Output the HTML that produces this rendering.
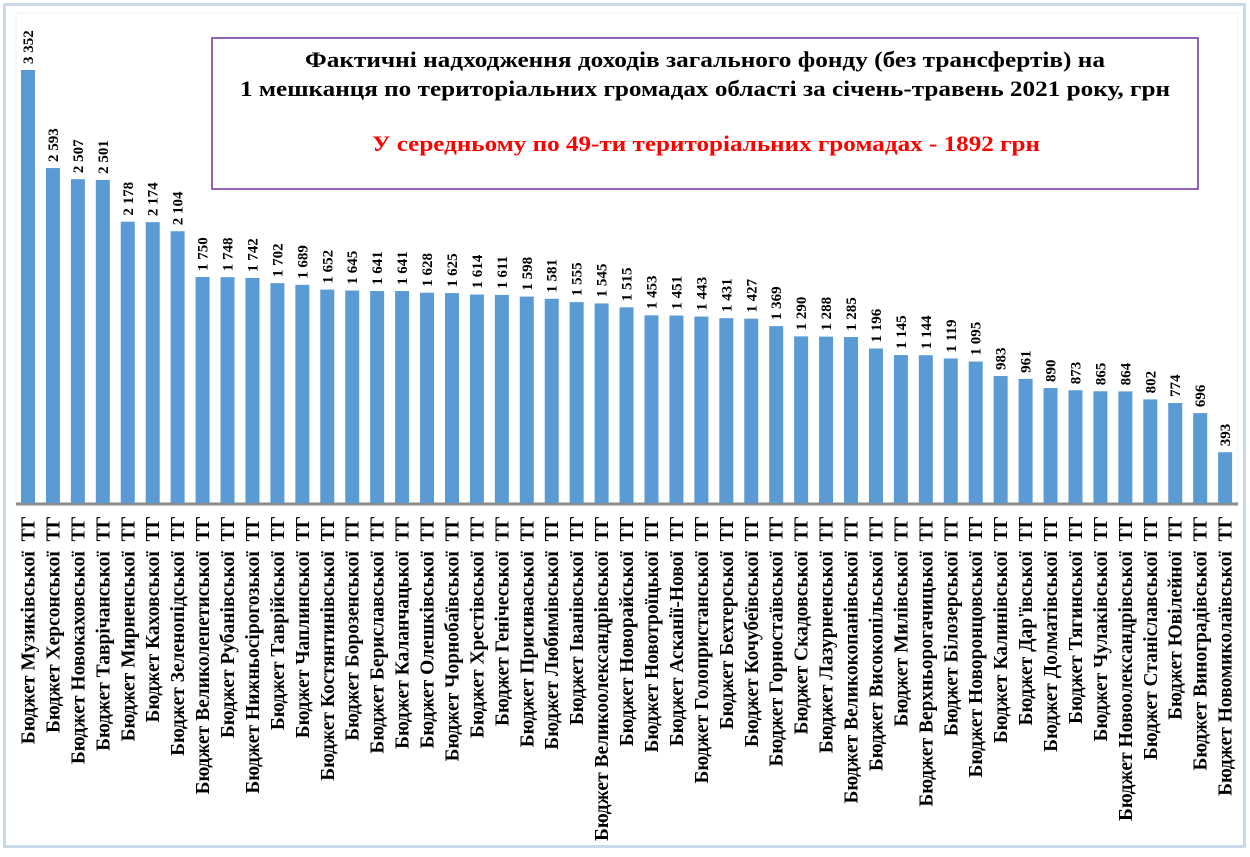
<!DOCTYPE html>
<html><head><meta charset="utf-8">
<style>
body{margin:0;background:#fff;}
svg text{font-family:"Liberation Serif",serif;font-weight:bold;}
</style></head>
<body>
<svg id="chart" width="1250" height="852" xmlns="http://www.w3.org/2000/svg">
<rect x="4.5" y="4.5" width="1240" height="842" fill="#fff" stroke="#c9d9ea" stroke-width="3"/>
<rect x="16" y="13" width="1222" height="490" fill="#fff" stroke="#eef0f3" stroke-width="1"/>
<line x1="16" y1="504" x2="1238" y2="504" stroke="#333" stroke-width="3" opacity="0.55"/>
<rect x="212" y="38" width="986" height="151" fill="#fff" stroke="#7030a0" stroke-width="1.5"/>
<text x="705" y="67" text-anchor="middle" font-size="22" textLength="800" lengthAdjust="spacingAndGlyphs">Фактичні надходження доходів загального фонду (без трансфертів) на</text>
<text x="705" y="96" text-anchor="middle" font-size="22" textLength="930" lengthAdjust="spacingAndGlyphs">1 мешканця по територіальних громадах області за січень-травень 2021 року, грн</text>
<text x="706" y="151" text-anchor="middle" font-size="22" fill="#ff0000" textLength="668" lengthAdjust="spacingAndGlyphs">У середньому по 49-ти територіальних громадах - 1892 грн</text>
<g id="bars"></g>
</svg>
<script>
const categories=["Музиківської","Херсонської","Новокаховської","Таврічанської","Мирненської","Каховської","Зеленопідської","Великолепетиської","Рубанівської","Нижньосірогозької","Таврійської","Чаплинської","Костянтинівської","Борозенської","Бериславської","Каланчацької","Олешківської","Чорнобаївської","Хрестівської","Генічеської","Присиваської","Любимівської","Іванівської","Великоолександрівської","Новорайської","Новотроїцької","Асканії-Нової","Голопристанської","Бехтерської","Кочубеївської","Горностаївської","Скадовської","Лазурненської","Великокопанівської","Високопільської","Милівської","Верхньорогачицької","Білозерської","Новоронцовської","Калинівської","Дар'ївської","Долматівської","Тягинської","Чулаківської","Новоолександрівської","Станіславської","Ювілейної","Виноградівської","Новомиколаївської"];
const values=[3352,2593,2507,2501,2178,2174,2104,1750,1748,1742,1702,1689,1652,1645,1641,1641,1628,1625,1614,1611,1598,1581,1555,1545,1515,1453,1451,1443,1431,1427,1369,1290,1288,1285,1196,1145,1144,1119,1095,983,961,890,873,865,864,802,774,696,393];
const valueLabels=values.map(v=>v>=1000?Math.floor(v/1000)+" "+String(v%1000).padStart(3,"0"):String(v));
const NS="http://www.w3.org/2000/svg";
const g=document.getElementById("bars");
const x0=28,pitch=24.94,baseY=503,scale=(503-70)/3352,bw=14;
const xPos=i=>x0+i*pitch;
const yPos=v=>baseY-v*scale;
values.forEach((v,i)=>{
  const cx=xPos(i);
  const r=document.createElementNS(NS,"rect");
  
  
  r.setAttribute("x",cx-bw/2);r.setAttribute("y",yPos(v));
  r.setAttribute("width",bw);r.setAttribute("height",v*scale);
  r.setAttribute("fill","#5b9bd5");
  g.appendChild(r);
  const t=document.createElementNS(NS,"text");
  
  
  t.setAttribute("font-size","15");
  t.setAttribute("transform",`translate(${cx+5},${yPos(v)-6}) rotate(-90)`);
  t.textContent=valueLabels[i];
  g.appendChild(t);
  const c=document.createElementNS(NS,"text");
  
  
  c.setAttribute("font-size","19.5");
  c.setAttribute("text-anchor","end");
  c.setAttribute("transform",`translate(${cx+6.5},516) rotate(-90)`);
  c.textContent="Бюджет "+categories[i]+"  ТГ";
  c.setAttribute("xml:space","preserve");
  c.style.whiteSpace="pre";
  g.appendChild(c);
});
</script>
</body></html>
